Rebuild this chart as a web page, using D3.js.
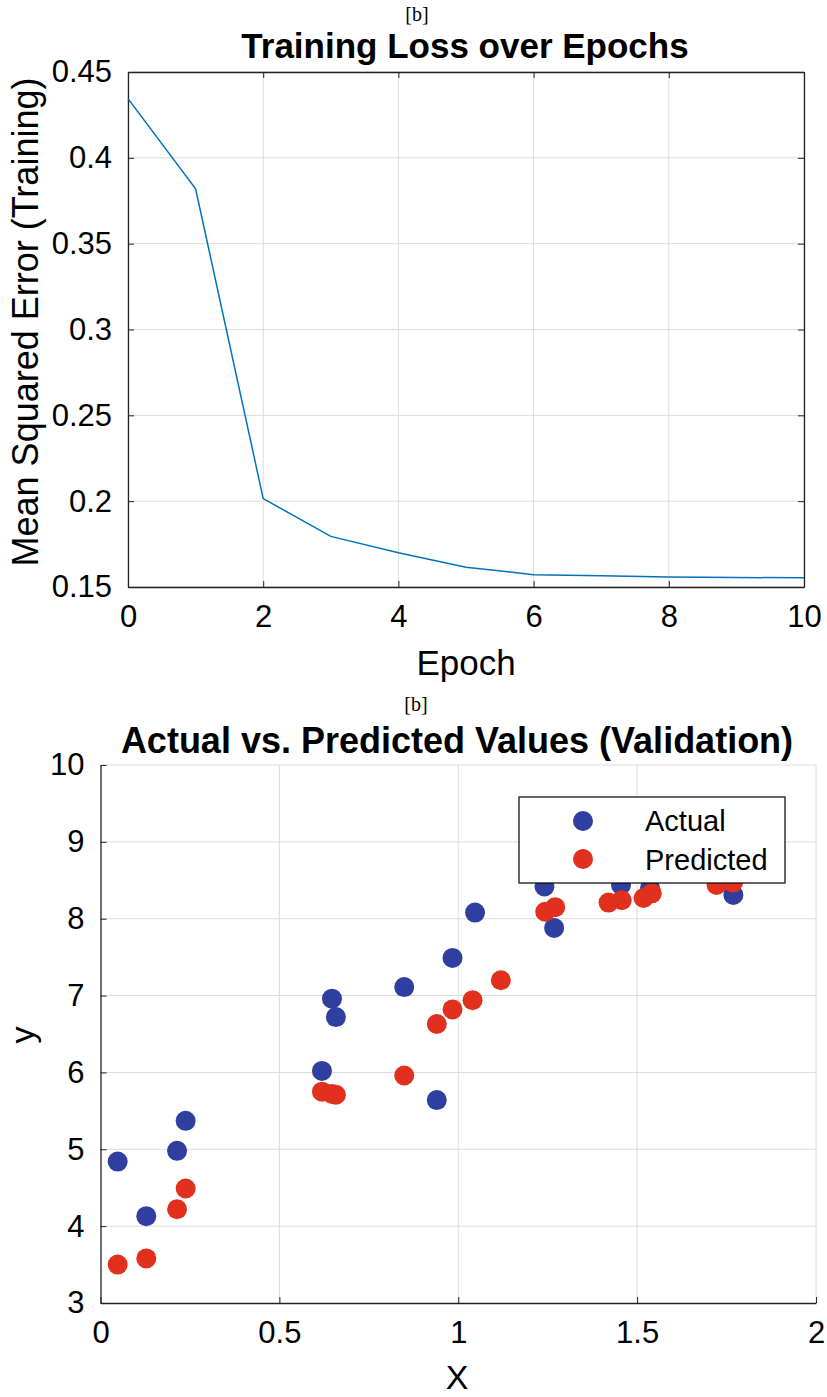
<!DOCTYPE html>
<html>
<head>
<meta charset="utf-8">
<script src="https://cdn.jsdelivr.net/npm/d3@7"></script>
<style>
  body { margin: 0; background: #fff; }
  text { font-family: "Liberation Sans", Arial, sans-serif; fill: #000; }
  .tag { font-family: "Liberation Serif", "Times New Roman", serif; }
</style>
</head>
<body>
<div class="chart"></div>
<script>
// Training loss curve
const epochs = [0, 1, 2, 3, 4, 5, 6, 7, 8, 9, 10];
const trainLoss = [0.4345, 0.382, 0.2015, 0.1795, 0.1700, 0.1615, 0.1572, 0.1565, 0.1558, 0.1555, 0.1554];
const epochTicks = [0, 2, 4, 6, 8, 10];
const lossTicks = [0.15, 0.2, 0.25, 0.3, 0.35, 0.4, 0.45];

// Validation scatter
const actualX = [0.048, 0.128, 0.214, 0.238, 0.619, 0.647, 0.658, 0.849, 0.940, 0.984, 1.047, 1.241, 1.268, 1.455, 1.536, 1.769];
const actualY = [4.84, 4.13, 4.98, 5.37, 6.02, 6.96, 6.72, 7.11, 5.64, 7.49, 8.08, 8.42, 7.88, 8.44, 8.40, 8.31];
const predictedX = [0.048, 0.128, 0.214, 0.238, 0.619, 0.647, 0.658, 0.849, 0.940, 0.984, 1.040, 1.119, 1.243, 1.271, 1.420, 1.457, 1.518, 1.541, 1.722, 1.768];
const predictedY = [3.50, 3.58, 4.22, 4.49, 5.75, 5.72, 5.71, 5.96, 6.63, 6.82, 6.94, 7.20, 8.09, 8.15, 8.21, 8.24, 8.27, 8.33, 8.44, 8.47];
const xTicks = [0, 0.5, 1, 1.5, 2];
const yTicks = [3, 4, 5, 6, 7, 8, 9, 10];
const legendLabels = ["Actual", "Predicted"];

const blue = "#2e3f9f";
const red = "#e2301f";
const gridColor = "#dcdcdc";
const axisColor = "#222";

const svg = d3.select(".chart")
    .append("svg")
    .attr("width", 827)
    .attr("height", 1397);

svg.append("rect").attr("width", 827).attr("height", 1397).attr("fill", "#fff");

// ---------- top chart ----------
const lossBox = { left: 128, right: 804, top: 72, bottom: 587 };

const xLoss = d3.scaleLinear().domain([0, 10]).range([lossBox.left, lossBox.right]);
const yLoss = d3.scaleLinear().domain([0.15, 0.45]).range([lossBox.bottom, lossBox.top]);

svg.append("text").attr("class", "tag")
    .attr("x", 417).attr("y", 21)
    .attr("text-anchor", "middle")
    .style("font-size", "20px")
    .text("[b]");

svg.append("text")
    .attr("x", 465).attr("y", 58)
    .attr("text-anchor", "middle")
    .style("font-size", "35px")
    .style("font-weight", "bold")
    .text("Training Loss over Epochs");

// grid
svg.append("g").selectAll("line").data(epochTicks).enter().append("line")
    .attr("x1", d => xLoss(d)).attr("x2", d => xLoss(d))
    .attr("y1", lossBox.top).attr("y2", lossBox.bottom)
    .attr("stroke", gridColor);
svg.append("g").selectAll("line").data(lossTicks).enter().append("line")
    .attr("x1", lossBox.left).attr("x2", lossBox.right)
    .attr("y1", d => yLoss(d)).attr("y2", d => yLoss(d))
    .attr("stroke", gridColor);

// axes with inward ticks, box on
const lossAxes = [
    { axis: d3.axisBottom(xLoss), t: `translate(0,${lossBox.bottom})`, labels: true },
    { axis: d3.axisTop(xLoss), t: `translate(0,${lossBox.top})`, labels: false },
    { axis: d3.axisLeft(yLoss), t: `translate(${lossBox.left},0)`, labels: true },
    { axis: d3.axisRight(yLoss), t: `translate(${lossBox.right},0)`, labels: false }
];
lossAxes.forEach((a, i) => {
    const isX = i < 2;
    a.axis.tickValues(isX ? epochTicks : lossTicks)
        .tickSizeInner(-6).tickSizeOuter(0)
        .tickPadding(isX ? 18 : 16)
        .tickFormat(a.labels ? (d => String(d)) : "");
    const g = svg.append("g").attr("transform", a.t).call(a.axis);
    g.select(".domain").attr("stroke", axisColor).attr("stroke-width", 1.3);
    g.selectAll(".tick line").attr("stroke", axisColor);
    g.selectAll("text").style("font-size", "31px").attr("fill", "#000");
});

svg.append("path")
    .datum(epochs.map((e, i) => [e, trainLoss[i]]))
    .attr("fill", "none")
    .attr("stroke", "#0072bd")
    .attr("stroke-width", 1.5)
    .attr("d", d3.line().x(d => xLoss(d[0])).y(d => yLoss(d[1])));

svg.append("text")
    .attr("x", 466).attr("y", 675)
    .attr("text-anchor", "middle")
    .style("font-size", "35px")
    .text("Epoch");

svg.append("text")
    .attr("transform", "translate(38,322) rotate(-90)")
    .attr("text-anchor", "middle")
    .style("font-size", "36px")
    .text("Mean Squared Error (Training)");

// ---------- bottom chart ----------
const valBox = { left: 100.5, right: 816, top: 765, bottom: 1303 };

const xVal = d3.scaleLinear().domain([0, 2]).range([valBox.left, valBox.right]);
const yVal = d3.scaleLinear().domain([3, 10]).range([valBox.bottom, valBox.top]);

svg.append("text").attr("class", "tag")
    .attr("x", 416).attr("y", 711)
    .attr("text-anchor", "middle")
    .style("font-size", "20px")
    .text("[b]");

svg.append("text")
    .attr("x", 457).attr("y", 753)
    .attr("text-anchor", "middle")
    .style("font-size", "36px")
    .style("font-weight", "bold")
    .text("Actual vs. Predicted Values (Validation)");

svg.append("g").selectAll("line").data(xTicks.slice(1)).enter().append("line")
    .attr("x1", d => xVal(d)).attr("x2", d => xVal(d))
    .attr("y1", valBox.top).attr("y2", valBox.bottom)
    .attr("stroke", gridColor);
svg.append("g").selectAll("line").data(yTicks.slice(1)).enter().append("line")
    .attr("x1", valBox.left).attr("x2", valBox.right)
    .attr("y1", d => yVal(d)).attr("y2", d => yVal(d))
    .attr("stroke", gridColor);

const gx = svg.append("g").attr("transform", `translate(0,${valBox.bottom})`)
    .call(d3.axisBottom(xVal).tickValues(xTicks).tickSizeInner(-6).tickSizeOuter(0)
        .tickPadding(18).tickFormat(d => String(d)));
const gy = svg.append("g").attr("transform", `translate(${valBox.left},0)`)
    .call(d3.axisLeft(yVal).tickValues(yTicks).tickSizeInner(-6).tickSizeOuter(0)
        .tickPadding(16).tickFormat(d => String(d)));
[gx, gy].forEach(g => {
    g.select(".domain").attr("stroke", axisColor).attr("stroke-width", 1.3);
    g.selectAll(".tick line").attr("stroke", axisColor);
    g.selectAll("text").style("font-size", "31px").attr("fill", "#000");
});

svg.append("g").selectAll("circle")
    .data(actualX.map((x, i) => [x, actualY[i]]))
    .enter().append("circle")
    .attr("cx", d => xVal(d[0])).attr("cy", d => yVal(d[1]))
    .attr("r", 10).attr("fill", blue);

svg.append("g").selectAll("circle")
    .data(predictedX.map((x, i) => [x, predictedY[i]]))
    .enter().append("circle")
    .attr("cx", d => xVal(d[0])).attr("cy", d => yVal(d[1]))
    .attr("r", 10).attr("fill", red);

svg.append("text")
    .attr("x", 457).attr("y", 1389)
    .attr("text-anchor", "middle")
    .style("font-size", "34px")
    .text("X");

svg.append("text")
    .attr("transform", "translate(34,1035) rotate(-90)")
    .attr("text-anchor", "middle")
    .style("font-size", "34px")
    .text("y");

// legend
const legend = svg.append("g").attr("transform", "translate(519,797)");
legend.append("rect")
    .attr("width", 266).attr("height", 86)
    .attr("fill", "#fff").attr("stroke", "#000").attr("stroke-width", 1.2);
legendLabels.forEach((label, i) => {
    legend.append("circle")
        .attr("cx", 64).attr("cy", 24 + i * 38)
        .attr("r", 10).attr("fill", i === 0 ? blue : red);
    legend.append("text")
        .attr("x", 126).attr("y", 34 + i * 39)
        .style("font-size", "29px")
        .text(label);
});
</script>
</body>
</html>
